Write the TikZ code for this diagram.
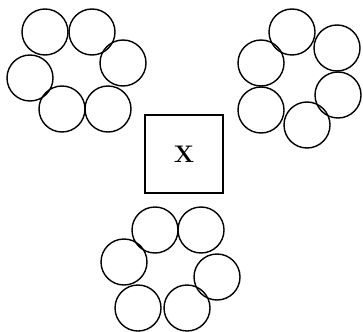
\documentclass[tikz,border=0pt]{standalone}
\usepackage{tikz}
\usetikzlibrary{positioning}
\tikzstyle{ring} = [circle, minimum size=46pt, inner sep=0pt, draw=black, line width=1.4pt]
\tikzstyle{box}  = [rectangle, minimum width=78pt, minimum height=78pt, draw=black, line width=1.4pt, font=\fontsize{24}{28}\selectfont\bfseries]
\begin{document}
\begin{tikzpicture}[x=1pt, y=-1pt]
\useasboundingbox (0,0) rectangle (363,331);

% centre box
\node (center) [box] at (184,154) {X};

% top left group
\node (tl1) [ring] at (45,32)   {};
\node (tl2) [ring] at (92,32)   {};
\node (tl3) [ring] at (123,63)  {};
\node (tl4) [ring] at (30,78)   {};
\node (tl5) [ring] at (62,109)  {};
\node (tl6) [ring] at (108,109) {};

% top right group
\node (tr1) [ring] at (292,32)  {};
\node (tr2) [ring] at (337,48)  {};
\node (tr3) [ring] at (261,63)  {};
\node (tr4) [ring] at (338,95)  {};
\node (tr5) [ring] at (261,110) {};
\node (tr6) [ring] at (307,125) {};

% bottom group
\node (bt1) [ring] at (155,230) {};
\node (bt2) [ring] at (201,230) {};
\node (bt3) [ring] at (124,262) {};
\node (bt4) [ring] at (217,277) {};
\node (bt5) [ring] at (138,308) {};
\node (bt6) [ring] at (187,308) {};

\end{tikzpicture}
\end{document}
